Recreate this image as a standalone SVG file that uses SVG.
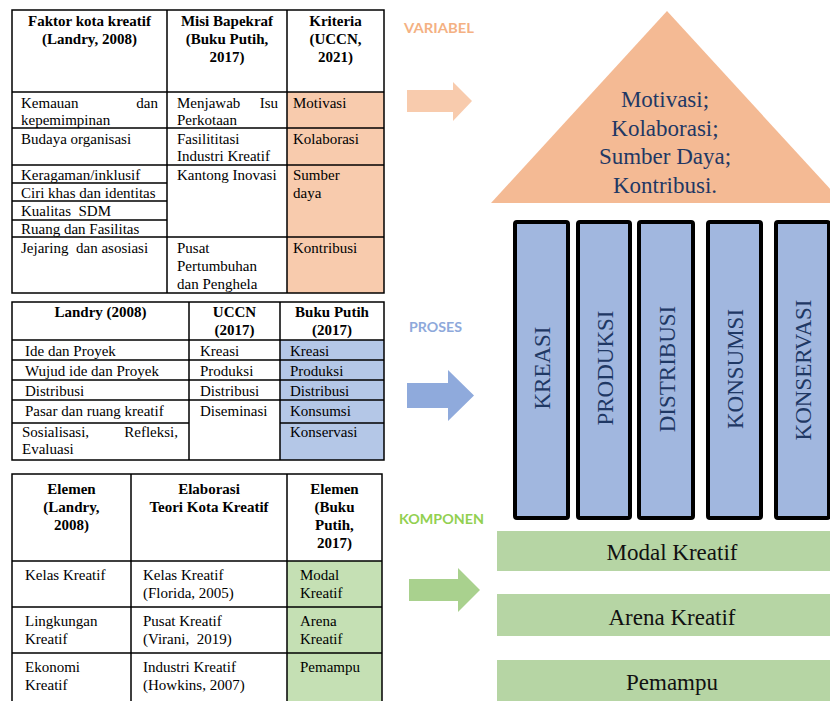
<svg xmlns="http://www.w3.org/2000/svg" width="830" height="701" viewBox="0 0 830 701">
<style>
.t{font-family:"Liberation Serif","Times New Roman",serif;font-size:15px;fill:#000;white-space:pre}
.b{font-weight:bold}
.c{text-anchor:middle}
.e{text-anchor:end}
.ln{stroke:#000;stroke-width:1.5;fill:none}
.big{font-family:"Liberation Serif","Times New Roman",serif;font-size:23px;fill:#1F3864;text-anchor:middle}
.gb{font-family:"Liberation Serif","Times New Roman",serif;font-size:23px;fill:#111;text-anchor:middle}
.pil{fill:#A1B7DF;stroke:#000;stroke-width:4}
.lab{font-family:Lato,"Liberation Sans",sans-serif;font-weight:bold;font-size:13.5px}
</style>
<rect width="830" height="701" fill="#fff"/>

<g id="table-variabel">
<rect x="287" y="92" width="97" height="201" fill="#F8CBAD"/>
<rect x="12" y="10" width="372" height="283" class="ln"/>
<path class="ln" d="M167 10V293M287 10V293M12 92H384M12 128H384M12 165H384M12 183H167M12 201H167M12 220H167M12 237H384"/>
<text class="t b c" x="89.5" y="26">Faktor kota kreatif</text>
<text class="t b c" x="89.5" y="44">(Landry, 2008)</text>
<text class="t b c" x="227" y="26">Misi Bapekraf</text>
<text class="t b c" x="227" y="44">(Buku Putih,</text>
<text class="t b c" x="227" y="62">2017)</text>
<text class="t b c" x="335.5" y="26">Kriteria</text>
<text class="t b c" x="335.5" y="44">(UCCN,</text>
<text class="t b c" x="335.5" y="62">2021)</text>
<text class="t" x="21" y="108">Kemauan</text>
<text class="t e" x="158" y="108">dan</text>
<text class="t" x="21" y="125">kepemimpinan</text>
<text class="t" x="177" y="108">Menjawab</text>
<text class="t e" x="278" y="108">Isu</text>
<text class="t" x="177" y="125">Perkotaan</text>
<text class="t" x="293" y="108">Motivasi</text>
<text class="t" x="21" y="144">Budaya organisasi</text>
<text class="t" x="177" y="144">Fasilititasi</text>
<text class="t" x="177" y="161">Industri Kreatif</text>
<text class="t" x="293" y="144">Kolaborasi</text>
<text class="t" x="21" y="180">Keragaman/inklusif</text>
<text class="t" x="21" y="198">Ciri khas dan identitas</text>
<text class="t" x="21" y="216" xml:space="preserve">Kualitas  SDM</text>
<text class="t" x="21" y="234">Ruang dan Fasilitas</text>
<text class="t" x="177" y="180">Kantong Inovasi</text>
<text class="t" x="293" y="180">Sumber</text>
<text class="t" x="293" y="198">daya</text>
<text class="t" x="21" y="253" xml:space="preserve">Jejaring  dan asosiasi</text>
<text class="t" x="177" y="253">Pusat</text>
<text class="t" x="177" y="271">Pertumbuhan</text>
<text class="t" x="177" y="289">dan Penghela</text>
<text class="t" x="293" y="253">Kontribusi</text>
</g>

<g id="table-proses">
<rect x="280" y="340" width="104" height="120" fill="#B4C7E7"/>
<rect x="12" y="302" width="372" height="158" class="ln"/>
<path class="ln" d="M189 302V460M280 302V460M12 340H384M12 360H384M12 380H384M12 400H384M12 423H189M280 423H384"/>
<text class="t b c" x="100.5" y="317">Landry (2008)</text>
<text class="t b c" x="234.5" y="317">UCCN</text>
<text class="t b c" x="234.5" y="335">(2017)</text>
<text class="t b c" x="332" y="317">Buku Putih</text>
<text class="t b c" x="332" y="335">(2017)</text>
<text class="t" x="25" y="356">Ide dan Proyek</text>
<text class="t" x="25" y="376">Wujud ide dan Proyek</text>
<text class="t" x="25" y="396">Distribusi</text>
<text class="t" x="25" y="416">Pasar dan ruang kreatif</text>
<text class="t" x="22" y="437">Sosialisasi,</text>
<text class="t e" x="178" y="437">Refleksi,</text>
<text class="t" x="22" y="454">Evaluasi</text>
<text class="t" x="200" y="356">Kreasi</text>
<text class="t" x="200" y="376">Produksi</text>
<text class="t" x="200" y="396">Distribusi</text>
<text class="t" x="200" y="416">Diseminasi</text>
<text class="t" x="290" y="356">Kreasi</text>
<text class="t" x="290" y="376">Produksi</text>
<text class="t" x="290" y="396">Distribusi</text>
<text class="t" x="290" y="416">Konsumsi</text>
<text class="t" x="290" y="437">Konservasi</text>
</g>

<g id="table-komponen">
<rect x="287" y="561" width="95" height="150" fill="#C5E0B4"/>
<rect x="12" y="474" width="370" height="240" class="ln"/>
<path class="ln" d="M131 474V714M287 474V714M12 561H382M12 607H382M12 653H382"/>
<text class="t b c" x="71.5" y="494">Elemen</text>
<text class="t b c" x="71.5" y="512">(Landry,</text>
<text class="t b c" x="71.5" y="530">2008)</text>
<text class="t b c" x="209" y="494">Elaborasi</text>
<text class="t b c" x="209" y="512">Teori Kota Kreatif</text>
<text class="t b c" x="334.5" y="494">Elemen</text>
<text class="t b c" x="334.5" y="512">(Buku</text>
<text class="t b c" x="334.5" y="530">Putih,</text>
<text class="t b c" x="334.5" y="548">2017)</text>
<text class="t" x="25" y="580">Kelas Kreatif</text>
<text class="t" x="143" y="580">Kelas Kreatif</text>
<text class="t" x="143" y="598">(Florida, 2005)</text>
<text class="t" x="300" y="580">Modal</text>
<text class="t" x="300" y="598">Kreatif</text>
<text class="t" x="25" y="626">Lingkungan</text>
<text class="t" x="25" y="644">Kreatif</text>
<text class="t" x="143" y="626">Pusat Kreatif</text>
<text class="t" x="143" y="644" xml:space="preserve">(Virani,  2019)</text>
<text class="t" x="300" y="626">Arena</text>
<text class="t" x="300" y="644">Kreatif</text>
<text class="t" x="25" y="672">Ekonomi</text>
<text class="t" x="25" y="690">Kreatif</text>
<text class="t" x="143" y="672">Industri Kreatif</text>
<text class="t" x="143" y="690">(Howkins, 2007)</text>
<text class="t" x="300" y="672">Pemampu</text>
</g>

<g id="labels">
<text class="lab" x="404" y="33" fill="#F4B183" textLength="70" lengthAdjust="spacingAndGlyphs">VARIABEL</text>
<text class="lab" x="409" y="332" fill="#8EA9DB" textLength="53" lengthAdjust="spacingAndGlyphs">PROSES</text>
<text class="lab" x="399" y="524" fill="#92D050" textLength="85" lengthAdjust="spacingAndGlyphs">KOMPONEN</text>
</g>

<g id="connectors">
<polygon points="407,90 453,90 453,82 472,101 453,121 453,112 407,112" fill="#F8CBAD"/>
<polygon points="407,383 448,383 448,370 474,395.5 448,421 448,408 407,408" fill="#8FAADC"/>
<polygon points="409,579 458,579 458,568 480,590 458,612 458,601 409,601" fill="#A9D18E"/>
</g>

<g id="roof">
<polygon points="667,11 843,203 491,203" fill="#F4BA94"/>
<text class="big" x="665" y="107">Motivasi;</text>
<text class="big" x="665" y="135.5">Kolaborasi;</text>
<text class="big" x="665" y="164">Sumber Daya;</text>
<text class="big" x="665" y="192.5">Kontribusi.</text>
</g>

<g id="pillar-kreasi">
<rect class="pil" x="515" y="222" width="53" height="296" rx="2"/>
<text class="big" font-size="22.5" transform="translate(550,368) rotate(-90)">KREASI</text>
</g>
<g id="pillar-produksi">
<rect class="pil" x="578" y="222" width="52" height="296" rx="2"/>
<text class="big" font-size="22.5" transform="translate(612.5,368) rotate(-90)">PRODUKSI</text>
</g>
<g id="pillar-distribusi">
<rect class="pil" x="639" y="222" width="54" height="296" rx="2"/>
<text class="big" font-size="22.5" transform="translate(674.5,369) rotate(-90)">DISTRIBUSI</text>
</g>
<g id="pillar-konsumsi">
<rect class="pil" x="708" y="222" width="53" height="296" rx="2"/>
<text class="big" font-size="22.5" transform="translate(743,369) rotate(-90)">KONSUMSI</text>
</g>
<g id="pillar-konservasi">
<rect class="pil" x="776" y="222" width="53" height="296" rx="2"/>
<text class="big" font-size="22.5" transform="translate(811,370) rotate(-90)">KONSERVASI</text>
</g>

<g id="bar-modal">
<rect x="497" y="531" width="340" height="40" fill="#B6D5A4"/>
<text class="gb" x="672" y="560">Modal Kreatif</text>
</g>
<g id="bar-arena">
<rect x="497" y="594" width="340" height="42" fill="#B6D5A4"/>
<text class="gb" x="672" y="624.5">Arena Kreatif</text>
</g>
<g id="bar-pemampu">
<rect x="497" y="660" width="340" height="45" fill="#B6D5A4"/>
<text class="gb" x="672" y="690">Pemampu</text>
</g>
</svg>
